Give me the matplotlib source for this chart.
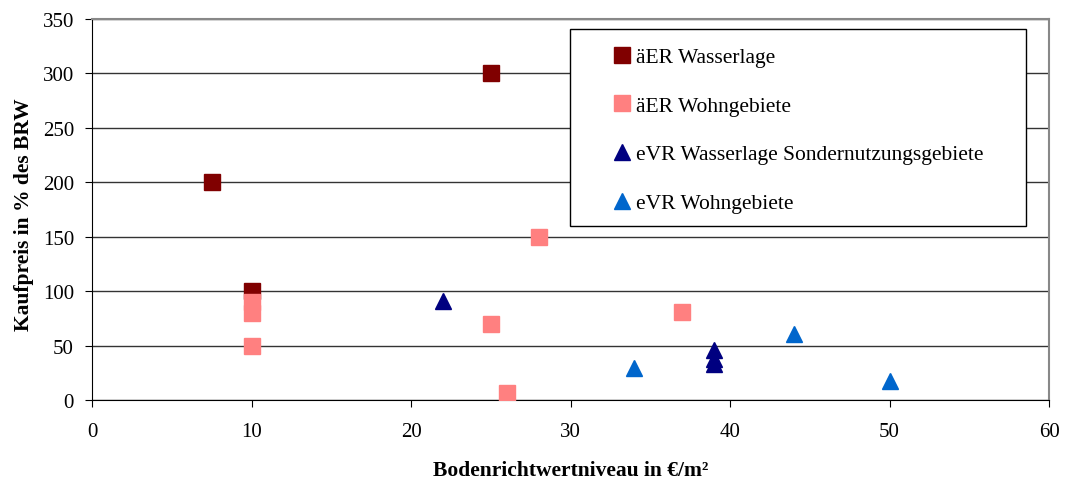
import matplotlib.pyplot as plt
from matplotlib.patches import Rectangle

plt.rcParams['font.family'] = ['Liberation Serif', 'DejaVu Serif']

# äER Wasserlage
wasser_x = [7.5, 10, 25]
wasser_y = [200, 100, 300]
# äER Wohngebiete
wohn_x = [10, 10, 10, 25, 26, 28, 37]
wohn_y = [90, 80, 50, 70, 6, 150, 81]
# eVR Wasserlage Sondernutzungsgebiete
evr_sn_x = [22, 39, 39, 39]
evr_sn_y = [91, 46, 38, 33]
# eVR Wohngebiete
evr_wohn_x = [34, 44, 50]
evr_wohn_y = [29, 61, 17]

W, H = 1069, 481
fig = plt.figure(figsize=(W / 100, H / 100), dpi=100)
ax = fig.add_axes([92 / W, 1 - 401 / H, (1049 - 92) / W, (401 - 20) / H])

ms = 11
ax.plot(wasser_x, wasser_y, 's', color='#800000', ms=ms, label='äER Wasserlage', zorder=3)
ax.plot(wohn_x, wohn_y, 's', color='#FF8080', ms=ms, label='äER Wohngebiete', zorder=3)
ax.plot(evr_sn_x, evr_sn_y, '^', color='#000080', ms=ms,
        label='eVR Wasserlage Sondernutzungsgebiete', zorder=3)
ax.plot(evr_wohn_x, evr_wohn_y, '^', color='#0066CC', ms=ms,
        label='eVR Wohngebiete', zorder=3)

ax.set_xlim(0, 60)
ax.set_ylim(0, 350)
ax.set_xticks(range(0, 61, 10))
ax.set_yticks(range(0, 351, 50))
ax.yaxis.grid(True, color='#333333', lw=1)
ax.set_axisbelow(True)
ax.tick_params(labelsize=15, direction='out', length=5)
ax.tick_params(axis='x', pad=11)
ax.tick_params(axis='y', pad=8)
for s in ['top', 'right']:
    ax.spines[s].set_color('#888888')
    ax.spines[s].set_linewidth(1.5)

ax.set_xlabel('Bodenrichtwertniveau in €/m²', fontsize=15.5, fontweight='bold')
ax.set_ylabel('Kaufpreis in % des BRW', fontsize=15.5, fontweight='bold')
ax.xaxis.set_label_coords(0.5, (401 - 461) / 381)
ax.yaxis.set_label_coords((34 - 92) / 957, 0.49)

# legend box drawn separately to get the wide padding of the original
fig.patches.append(Rectangle((570 / W, 1 - 227 / H), 456 / W, 197 / H,
                             transform=fig.transFigure, facecolor='white',
                             edgecolor='black', lw=1, zorder=4))
leg = fig.legend(loc='upper left', bbox_to_anchor=(614 / W, 1 - 48 / H),
                 fontsize=15.5, frameon=False, borderpad=0, borderaxespad=0,
                 handlelength=0.75, handletextpad=0.25, labelspacing=1.33)
leg.set_zorder(5)

fig.savefig('out.png', dpi=100)
